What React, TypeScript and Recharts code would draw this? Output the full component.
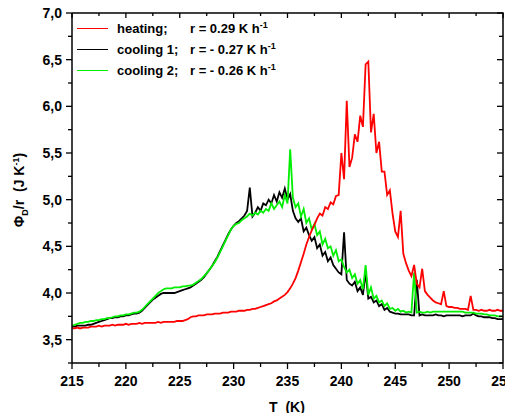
import React from "react";
import { LineChart, Line, XAxis, YAxis } from "recharts";

// Temperature grid (K)
const temperatures = [
  215, 215.25, 215.5, 215.75, 216, 216.25, 216.5, 216.75, 217, 217.25, 217.5, 217.75,
  218, 218.25, 218.5, 218.75, 219, 219.25, 219.5, 219.75, 220, 220.25, 220.5, 220.75,
  221, 221.25, 221.5, 221.75, 222, 222.25, 222.5, 222.75, 223, 223.25, 223.5, 223.75,
  224, 224.25, 224.5, 224.75, 225, 225.25, 225.5, 225.75, 226, 226.25, 226.5, 226.75,
  227, 227.25, 227.5, 227.75, 228, 228.25, 228.5, 228.75, 229, 229.25, 229.5, 229.75,
  230, 230.25, 230.5, 230.75, 231, 231.25, 231.5, 231.75, 232, 232.25, 232.5, 232.75,
  233, 233.25, 233.5, 233.75, 234, 234.25, 234.5, 234.75, 235, 235.25, 235.5, 235.75,
  236, 236.25, 236.5, 236.75, 237, 237.25, 237.5, 237.75, 238, 238.25, 238.5, 238.75,
  239, 239.25, 239.5, 239.75, 240, 240.25, 240.5, 240.75, 241, 241.25, 241.5, 241.75,
  242, 242.25, 242.5, 242.75, 243, 243.25, 243.5, 243.75, 244, 244.25, 244.5, 244.75,
  245, 245.25, 245.5, 245.75, 246, 246.25, 246.5, 246.75, 247, 247.25, 247.5, 247.75,
  248, 248.25, 248.5, 248.75, 249, 249.25, 249.5, 249.75, 250, 250.25, 250.5, 250.75,
  251, 251.25, 251.5, 251.75, 252, 252.25, 252.5, 252.75, 253, 253.25, 253.5, 253.75,
  254, 254.25, 254.5, 254.75, 255,
];

// heating; r = 0.29 K/h
const heating = [
  3.62, 3.62, 3.63, 3.62, 3.63, 3.63, 3.63, 3.64, 3.64, 3.64, 3.65, 3.64,
  3.65, 3.65, 3.65, 3.66, 3.65, 3.66, 3.66, 3.66, 3.67, 3.66, 3.67, 3.67,
  3.67, 3.68, 3.67, 3.68, 3.68, 3.68, 3.68, 3.68, 3.69, 3.68, 3.69, 3.69,
  3.69, 3.69, 3.69, 3.70, 3.70, 3.70, 3.71, 3.72, 3.74, 3.75, 3.75, 3.76,
  3.76, 3.76, 3.77, 3.77, 3.77, 3.78, 3.78, 3.78, 3.79, 3.79, 3.79, 3.80,
  3.80, 3.80, 3.81, 3.81, 3.81, 3.82, 3.82, 3.83, 3.83, 3.84, 3.85, 3.86,
  3.87, 3.88, 3.89, 3.91, 3.92, 3.94, 3.96, 3.98, 4.01, 4.05, 4.10, 4.16,
  4.24, 4.33, 4.42, 4.52, 4.60, 4.67, 4.73, 4.80, 4.85, 4.83, 4.92, 4.90,
  4.97, 4.95, 5.04, 5.05, 5.50, 5.22, 6.06, 5.35, 5.45, 5.70, 5.62, 5.90,
  5.78, 6.45, 6.48, 5.72, 5.92, 5.50, 5.62, 5.30, 5.30, 5.05, 5.10, 4.85,
  4.66, 4.60, 4.88, 4.42, 4.32, 4.24, 4.18, 4.30, 4.10, 4.06, 4.26, 4.02,
  3.98, 3.95, 3.92, 3.90, 3.89, 3.88, 4.02, 3.86, 3.85, 3.85, 3.84, 3.84,
  3.83, 3.83, 3.83, 3.82, 3.97, 3.82, 3.82, 3.81, 3.82, 3.81, 3.81, 3.82,
  3.81, 3.81, 3.82, 3.81, 3.81,
];

// cooling 1; r = -0.27 K/h
const cooling1 = [
  3.64, 3.64, 3.65, 3.65, 3.65, 3.65, 3.66, 3.66, 3.67, 3.68, 3.69, 3.70,
  3.71, 3.72, 3.73, 3.73, 3.74, 3.74, 3.75, 3.75, 3.76, 3.76, 3.77, 3.78,
  3.78, 3.79, 3.81, 3.84, 3.87, 3.90, 3.93, 3.95, 3.97, 3.99, 4.00, 4.00,
  4.00, 4.00, 4.00, 4.01, 4.02, 4.03, 4.04, 4.05, 4.06, 4.08, 4.10, 4.12,
  4.14, 4.17, 4.21, 4.25, 4.29, 4.34, 4.39, 4.45, 4.51, 4.57, 4.63, 4.68,
  4.72, 4.75, 4.77, 4.80, 4.83, 4.88, 5.13, 4.82, 4.86, 4.92, 4.88, 4.96,
  4.94, 5.00, 4.96, 5.05, 4.98, 5.08, 5.02, 5.12, 5.00, 5.06, 4.88, 4.80,
  4.76, 4.80, 4.66, 4.70, 4.62, 4.56, 4.60, 4.48, 4.52, 4.40, 4.44, 4.34,
  4.38, 4.30, 4.26, 4.22, 4.20, 4.65, 4.14, 4.10, 4.08, 4.12, 4.02, 4.06,
  3.98, 4.22, 3.94, 3.96, 3.90, 3.92, 3.86, 3.88, 3.82, 3.84, 3.80, 3.79,
  3.78, 3.78, 3.77, 3.77, 3.77, 3.77, 3.76, 3.76, 4.14, 3.76, 3.77, 3.76,
  3.76, 3.76, 3.76, 3.77, 3.76, 3.76, 3.75, 3.76, 3.76, 3.76, 3.76, 3.76,
  3.76, 3.75, 3.76, 3.76, 3.76, 3.78, 3.76, 3.75, 3.75, 3.74, 3.74, 3.74,
  3.73, 3.73, 3.72, 3.72, 3.72,
];

// cooling 2; r = -0.26 K/h
const cooling2 = [
  3.65, 3.66, 3.67, 3.68, 3.68, 3.69, 3.69, 3.70, 3.70, 3.71, 3.71, 3.72,
  3.72, 3.73, 3.73, 3.74, 3.75, 3.75, 3.76, 3.76, 3.77, 3.77, 3.78, 3.79,
  3.79, 3.80, 3.82, 3.85, 3.88, 3.91, 3.94, 3.97, 4.00, 4.02, 4.04, 4.05,
  4.05, 4.05, 4.06, 4.06, 4.06, 4.07, 4.07, 4.08, 4.08, 4.09, 4.11, 4.13,
  4.15, 4.18, 4.21, 4.25, 4.29, 4.33, 4.38, 4.44, 4.50, 4.56, 4.62, 4.68,
  4.72, 4.74, 4.75, 4.78, 4.80, 4.82, 4.85, 4.83, 4.86, 4.84, 4.88, 4.86,
  4.90, 4.88, 4.96, 4.90, 4.94, 4.98, 4.92, 5.05, 4.96, 5.54, 5.02, 4.92,
  4.96, 4.82, 4.90, 4.75, 4.80, 4.68, 4.74, 4.62, 4.66, 4.52, 4.58, 4.48,
  4.50, 4.40, 4.46, 4.34, 4.36, 4.28, 4.22, 4.25, 4.16, 4.20, 4.10, 4.14,
  4.04, 4.30, 3.98, 4.06, 3.94, 3.97, 3.90, 3.92, 3.86, 3.89, 3.83, 3.84,
  3.81, 3.83, 3.80, 3.81, 3.79, 3.80, 3.79, 4.22, 3.79, 3.80, 3.79, 3.79,
  3.80, 3.79, 3.80, 3.80, 3.80, 3.80, 3.80, 3.80, 3.80, 3.80, 3.80, 3.80,
  3.80, 3.80, 3.79, 3.79, 3.79, 3.79, 3.78, 3.78, 3.78, 3.77, 3.77, 3.76,
  3.76, 3.76, 3.75, 3.75, 3.75,
];

const xTicks = [215, 217.5, 220, 222.5, 225, 227.5, 230, 232.5, 235, 237.5, 240, 242.5, 245, 247.5, 250, 252.5, 255];
const yTicks = [3.25, 3.5, 3.75, 4.0, 4.25, 4.5, 4.75, 5.0, 5.25, 5.5, 5.75, 6.0, 6.25, 6.5, 6.75, 7.0];
const xDomain = [215, 255];
const yDomain = [3.25, 7.0];

const seriesNames = ["heating;", "cooling 1;", "cooling 2;"];
const seriesRates = ["r = 0.29 K h", "r = - 0.27 K h", "r = - 0.26 K h"];
const seriesColors = ["#ff0000", "#000000", "#00ee00"];

const rows = temperatures.map((t, i) => ({
  T: t,
  heating: heating[i],
  cooling1: cooling1[i],
  cooling2: cooling2[i],
}));

const FONT = "'Liberation Sans', Arial, sans-serif";

// layout of the chart box
const CHART_W = 505;
const CHART_H = 406;
const MARGIN = { top: 6, right: 10, bottom: 0, left: 0 };
const Y_AXIS_W = 64;
const X_AXIS_H = 50;
const PLOT_W = CHART_W - MARGIN.right - MARGIN.left - Y_AXIS_W;
const PLOT_H = CHART_H - MARGIN.bottom - X_AXIS_H - MARGIN.top;

const isMajorX = (v: number) => Math.abs(v / 5 - Math.round(v / 5)) < 1e-6;
const isMajorY = (v: number) => Math.abs(v * 2 - Math.round(v * 2)) < 1e-6;

// bottom tick + mirrored inward tick on the top frame edge; the last tick also draws the right frame edge
const BottomTick = (props: any) => {
  const { x, y, payload } = props;
  const major = isMajorX(payload.value);
  const top = y - PLOT_H;
  const isLast = payload.value === xDomain[1];
  return (
    <g>
      <line x1={x} x2={x} y1={y} y2={y + (major ? 6 : 4)} stroke="#000" strokeWidth={1.3} />
      <line x1={x} x2={x} y1={top} y2={top + (major ? 5 : 3)} stroke="#000" strokeWidth={1.3} />
      {isLast && <line x1={x} x2={x} y1={top} y2={y} stroke="#000" strokeWidth={1.5} />}
      {major && (
        <text x={x} y={y + 23} textAnchor="middle" fontFamily={FONT} fontWeight="bold" fontSize={14} fill="#000">
          {String(payload.value)}
        </text>
      )}
    </g>
  );
};

// left tick + mirrored inward tick on the right frame edge; the top tick also draws the top frame edge
const LeftTick = (props: any) => {
  const { x, y, payload } = props;
  const major = isMajorY(payload.value);
  const right = x + PLOT_W;
  const isTop = payload.value === yDomain[1];
  return (
    <g>
      <line x1={x - (major ? 6 : 4)} x2={x} y1={y} y2={y} stroke="#000" strokeWidth={1.3} />
      <line x1={right - (major ? 6 : 4)} x2={right} y1={y} y2={y} stroke="#000" strokeWidth={1.3} />
      {isTop && <line x1={x} x2={right + 0.75} y1={y} y2={y} stroke="#000" strokeWidth={1.5} />}
      {major && (
        <text x={x - 10} y={y + 5} textAnchor="end" fontFamily={FONT} fontWeight="bold" fontSize={14} fill="#000">
          {payload.value.toFixed(1).replace(".", ",")}
        </text>
      )}
    </g>
  );
};

const axisLine = { stroke: "#000", strokeWidth: 1.5 };

export default function App() {
  return (
    <div style={{ position: "relative", width: CHART_W, height: CHART_H, marginTop: -1, fontFamily: FONT }}>
      <style>{`.recharts-surface, .recharts-wrapper { overflow: visible; }`}</style>
      <LineChart width={CHART_W} height={CHART_H} data={rows} margin={MARGIN}>
        <XAxis
          dataKey="T"
          type="number"
          domain={xDomain}
          ticks={xTicks}
          interval={0}
          height={X_AXIS_H}
          tickSize={0}
          tickMargin={0}
          tickLine={false}
          axisLine={axisLine}
          tick={<BottomTick />}
        />
        <YAxis
          type="number"
          domain={yDomain}
          ticks={yTicks}
          interval={0}
          width={Y_AXIS_W}
          tickSize={0}
          tickMargin={0}
          tickLine={false}
          axisLine={axisLine}
          tick={<LeftTick />}
        />
        <Line type="linear" dataKey="cooling1" stroke={seriesColors[1]} strokeWidth={1.8} dot={false} isAnimationActive={false} />
        <Line type="linear" dataKey="cooling2" stroke={seriesColors[2]} strokeWidth={1.8} dot={false} isAnimationActive={false} />
        <Line type="linear" dataKey="heating" stroke={seriesColors[0]} strokeWidth={1.8} dot={false} isAnimationActive={false} />
      </LineChart>

      {/* Legend */}
      <div style={{ position: "absolute", left: 69, top: 13, fontWeight: "bold", fontSize: 13, color: "#000" }}>
        {seriesNames.map((name, i) => (
          <div key={name} style={{ position: "relative", height: 21, width: 260 }}>
            <div style={{ position: "absolute", left: 0, top: 8, width: 31, height: 0, borderTop: `1.5px solid ${seriesColors[i]}` }} />
            <span style={{ position: "absolute", left: 40, top: 0, whiteSpace: "pre", lineHeight: "17px" }}>{name}</span>
            <span style={{ position: "absolute", left: 113, top: 0, whiteSpace: "pre", lineHeight: "17px" }}>
              {seriesRates[i]}
              <sup style={{ fontSize: 9, verticalAlign: "top", position: "relative", top: -3 }}>-1</sup>
            </span>
          </div>
        ))}
      </div>

      {/* Y-axis title */}
      <div
        style={{
          position: "absolute",
          left: 14,
          top: 183,
          transform: "translate(-50%, -50%) rotate(-90deg)",
          whiteSpace: "pre",
          fontWeight: "bold",
          fontSize: 14,
          lineHeight: "16px",
        }}
      >
        Φ<sub style={{ fontSize: 9, verticalAlign: "sub" }}>D</sub>/r  (J K
        <sup style={{ fontSize: 9, verticalAlign: "top", position: "relative", top: -3 }}>-1</sup>)
      </div>

      {/* X-axis title */}
      <div
        style={{
          position: "absolute",
          left: 279,
          top: 400,
          transform: "translate(-50%, -50%)",
          whiteSpace: "pre",
          fontWeight: "bold",
          fontSize: 14,
        }}
      >
        T  (K)
      </div>
    </div>
  );
}
